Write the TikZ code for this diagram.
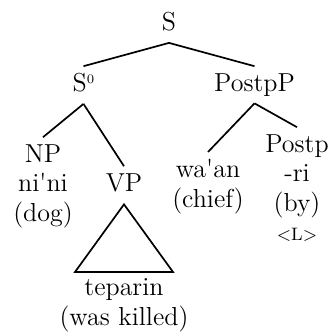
\documentclass[tikz,border=0pt]{standalone}
\usepackage{fontspec}
\begin{document}
\begin{tikzpicture}[x=0.5pt, y=0.5pt,
		every node/.style = {anchor=north, inner sep=0pt, align=center,
			font=\fontsize{13}{14.75}\selectfont},
		growth parent anchor=north,
		edge from parent/.style={draw, line width=0.85pt},
		edge from parent path={([yshift=-6pt]\tikzparentnode.base) -- ([yshift=3.5pt]\tikzchildnode.north)},
		level 1/.style={sibling distance=85.5pt, level distance=30.5pt},
		level 2/.style={sibling distance=42.5pt, level distance=35.5pt},
		level 3/.style={level distance=52.7pt}]
	\useasboundingbox (0,0) rectangle (336,-331);
	\node (s) at (169,-12.2) {S}
	child { node (s0) {S\raisebox{4pt}{\fontsize{6.5}{6.5}\selectfont 0}}
		child { node[xshift=1pt] (np) {NP\\ni\textquotesingle ni\\(dog)} }
		child { node[xshift=-1pt, yshift=-14.5pt] (vp) {VP}
			child[edge from parent path={([yshift=-6.5pt]\tikzparentnode.base)
				-- ([xshift=-24.5pt, yshift=3.3pt]\tikzchildnode.north)
				-- ([xshift=24.5pt, yshift=3.3pt]\tikzchildnode.north) -- cycle}]
			{ node (teparin) {teparin\\(was killed)} } } }
	child { node (postpp) {PostpP}
		child { node[xshift=-2pt, yshift=-7.4pt] (waan) {wa\textquotesingle an\\(chief)} }
		child { node[yshift=5pt] (postp) {Postp\\-ri\\(by)\\{\fontsize{9}{9}\selectfont <L>}} } };
\end{tikzpicture}
\end{document}
